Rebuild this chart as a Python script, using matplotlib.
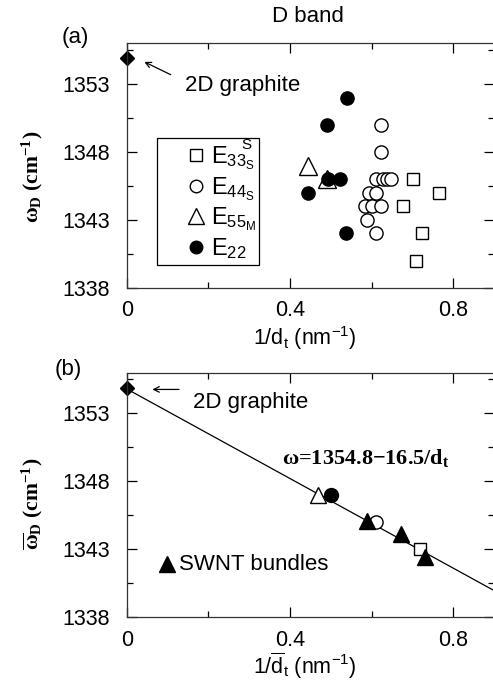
#!/usr/bin/env python3
"""D band frequency vs inverse tube diameter, panels (a) and (b)."""

import matplotlib
matplotlib.use("Agg")
import matplotlib.pyplot as plt
from matplotlib.patches import Rectangle
import numpy as np

plt.rcParams["font.family"] = ["Liberation Sans", "DejaVu Sans"]
plt.rcParams["mathtext.fontset"] = "custom"
plt.rcParams["mathtext.rm"] = "Liberation Sans"
plt.rcParams["mathtext.it"] = "Liberation Sans:italic"
plt.rcParams["mathtext.bf"] = "Liberation Serif:bold"
plt.rcParams["mathtext.default"] = "regular"

# graphite reference point
graphite_x = 0.0
graphite_w = 1354.9

# panel (a): individual resonances
e33_x = [0.702, 0.766, 0.678, 0.724, 0.709]
e33_w = [1346, 1345, 1344, 1342, 1340]
e44_x = [0.623, 0.624, 0.612, 0.627, 0.638, 0.647, 0.594, 0.612, 0.584, 0.600, 0.623, 0.588, 0.612]
e44_w = [1350, 1348, 1346, 1346, 1346, 1346, 1345, 1345, 1344, 1344, 1344, 1343, 1342]
e55_x = [0.445, 0.490]
e55_w = [1347, 1346]
e22_x = [0.539, 0.490, 0.494, 0.522, 0.445, 0.537]
e22_w = [1352, 1350, 1346, 1346, 1345, 1342]

# panel (b): averages and bundles
avg_e33 = (0.718, 1343.0)
avg_e44 = (0.612, 1345.0)
avg_e55 = (0.469, 1347.0)
avg_e22 = (0.500, 1347.0)
bundle_x = [0.588, 0.672, 0.731]
bundle_w = [1345.1, 1344.1, 1342.4]

fit_a, fit_b = 1354.8, -16.5

FS = 15.5


def style_axis(ax):
    ax.set_xlim(0, 0.9)
    ax.set_ylim(1338, 1356)
    ax.set_xticks([0, 0.4, 0.8])
    ax.set_xticklabels(["0", "0.4", "0.8"])
    ax.set_xticks([0.2, 0.6], minor=True)
    ax.set_yticks([1338, 1343, 1348, 1353])
    ax.set_yticks([1340.5, 1345.5, 1350.5, 1355.5], minor=True)
    ax.tick_params(which="both", direction="in", top=True, right=True, labelsize=FS, width=0.9)
    ax.tick_params(which="major", length=7, pad=9)
    ax.tick_params(which="minor", length=4)
    ax.tick_params(axis="y", pad=12)
    for sp in ax.spines.values():
        sp.set_linewidth(0.9)
        sp.set_color("#333333")


W, H = 493, 685
fig = plt.figure(figsize=(W / 100, H / 100), dpi=100)
ax_a = fig.add_axes([126.7 / W, 1 - 287.7 / H, 367.3 / W, 244.4 / H])
ax_b = fig.add_axes([126.7 / W, 1 - 617.0 / H, 367.3 / W, 244.4 / H])

mk = dict(linestyle="none", markeredgewidth=1.0, clip_on=False)

# ---- panel (a)
style_axis(ax_a)
ax_a.plot(graphite_x, graphite_w, "D", color="black", markersize=7.5, **mk)
ax_a.plot(e33_x, e33_w, "s", mfc="white", mec="black", markersize=9, label=r"E$_{33_S}$", **mk)
ax_a.plot(e44_x, e44_w, "o", mfc="white", mec="black", markersize=9.5, label=r"E$_{44_S}$", **mk)
ax_a.plot(e55_x, e55_w, "^", mfc="white", mec="black", markersize=12.5, label=r"E$_{55_M}$", **mk)
ax_a.plot(e22_x, e22_w, "o", color="black", markersize=9.5, label=r"E$_{22}$", **mk)
ax_a.annotate("", xy=(0.037, 1354.72), xytext=(0.114, 1353.6),
              arrowprops=dict(arrowstyle="->", lw=0.9, color="black"))
ax_a.text(0.143, 1352.9, "2D graphite", fontsize=16, va="center")

# legend text without frame, box drawn separately
leg = ax_a.legend(loc="upper left", bbox_to_anchor=(0.163, 0.585), fontsize=17,
                  frameon=False, handlelength=0.8, handletextpad=0.25,
                  labelspacing=0.12, borderpad=0, borderaxespad=0, markerscale=0.95)
ax_a.add_patch(Rectangle((0.083, 0.093), 0.278, 0.521, transform=ax_a.transAxes,
                         fill=False, edgecolor="black", lw=0.9))
ax_a.text(0.294, 1348.5, "S", fontsize=11, va="center", ha="center")

fig.text(0.624, 1 - 16 / H, "D band", fontsize=16, ha="center", va="center")
fig.text(62 / W, 1 - 37.5 / H, "(a)", fontsize=16, ha="left", va="center")
fig.text(305 / W, 1 - 338 / H, r"1/d$_t$ (nm$^{-1}$)", fontsize=FS, ha="center", va="center")
fig.text(32 / W, 1 - 177 / H, r"ω$_\mathbf{D}$ (cm$^\mathbf{-1}$)", fontsize=FS,
         family="Liberation Serif", weight="bold", rotation=90, ha="center", va="center")

# ---- panel (b)
style_axis(ax_b)
xs = np.array([0, 0.9])
ax_b.plot(xs, fit_a + fit_b * xs, color="black", lw=0.9)
ax_b.plot(graphite_x, graphite_w, "D", color="black", markersize=7.5, **mk)
ax_b.plot(*avg_e55, "^", mfc="white", mec="black", markersize=12, **mk)
ax_b.plot(*avg_e22, "o", color="black", markersize=10, **mk)
ax_b.plot(*avg_e44, "o", mfc="white", mec="black", markersize=9.5, **mk)
ax_b.plot(*avg_e33, "s", mfc="white", mec="black", markersize=9, **mk)
ax_b.plot(bundle_x, bundle_w, "^", color="black", markersize=11.5, **mk)
ax_b.annotate("", xy=(0.056, 1354.76), xytext=(0.135, 1354.76),
              arrowprops=dict(arrowstyle="->", lw=0.9, color="black"))
ax_b.text(0.163, 1353.8, "2D graphite", fontsize=16, va="center")
ax_b.text(0.38, 1349.7, r"ω=1354.8−16.5/d$_\mathbf{t}$", fontsize=16,
          family="Liberation Serif", weight="bold", va="center")
ax_b.plot(0.098, 1341.9, "^", color="black", markersize=11.5, **mk)
ax_b.text(0.127, 1341.9, "SWNT bundles", fontsize=16, va="center")

fig.text(55 / W, 1 - 369 / H, "(b)", fontsize=16, ha="left", va="center")
fig.text(305 / W, 1 - 666 / H, r"1/$\overline{d}_t$ (nm$^{-1}$)", fontsize=FS, ha="center", va="center")
fig.text(32 / W, 1 - 504 / H, r"$\mathbf{\overline{ω}}_\mathbf{D}$ (cm$^\mathbf{-1}$)", fontsize=FS,
         family="Liberation Serif", weight="bold", rotation=90, ha="center", va="center")

fig.savefig("out.png", dpi=100)
